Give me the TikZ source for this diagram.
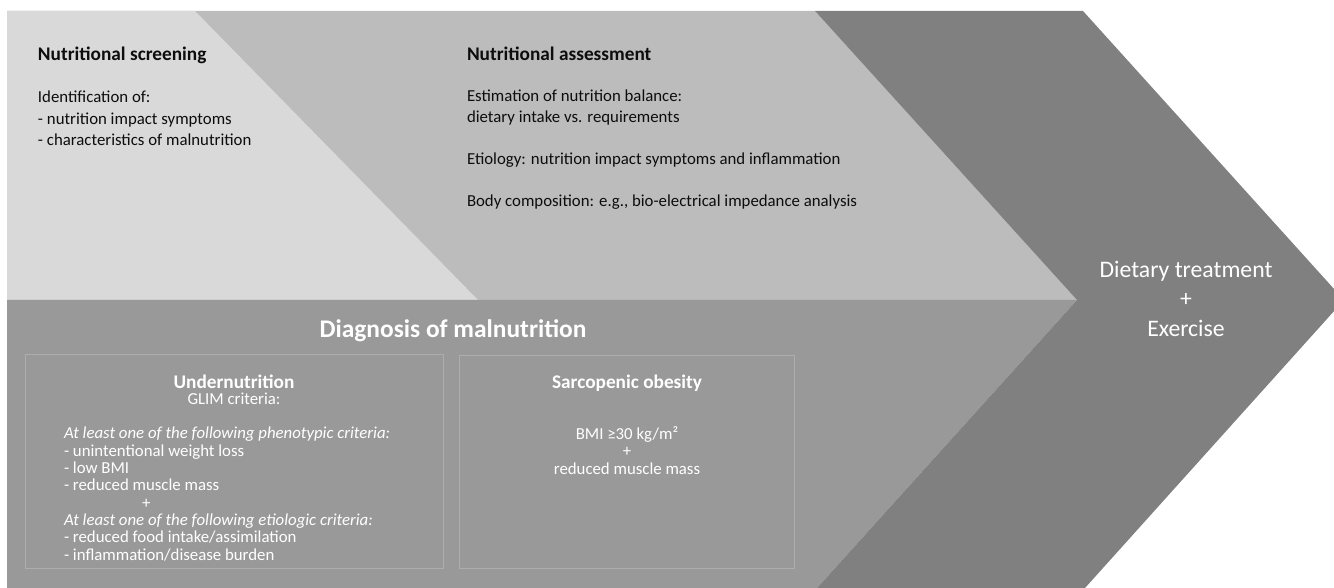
\documentclass[tikz,border=0pt]{standalone}
\usepackage{fontspec}
\setmainfont{Carlito}
\usetikzlibrary{calc}

\definecolor{screengray}{HTML}{D9D9D9}
\definecolor{assessgray}{HTML}{BCBCBC}
\definecolor{diaggray}{HTML}{999999}
\definecolor{treatgray}{HTML}{808080}
\definecolor{boxline}{HTML}{ADADAD}
\definecolor{inktext}{HTML}{0D0D0D}

\begin{document}
\begin{tikzpicture}[x=0.5pt, y=-0.5pt,
	every node/.style={inner sep=0pt, outer sep=0pt},
	headtext/.style={font=\bfseries\fontsize{9.65}{11.6}\selectfont},
	bodytext/.style={font=\fontsize{8.4}{10.5}\selectfont, align=left, text=inktext},
	crittext/.style={font=\fontsize{8.4}{8.65}\selectfont, text=white}]
	
	% parameters
	\def\bandtop{11}      % upper edge of the bands
	\def\bandmid{300}     % line between assessment and diagnosis
	\def\bandbot{588}     % lower edge
	\def\bandleft{7}      % left edge
	
	\useasboundingbox (0,0) rectangle (1334,588);
	
	% chevron corners
	\coordinate (notch) at (1077,\bandmid);
	\coordinate (tip) at (1344,\bandmid);
	
	% assessment band
	\fill[assessgray] (\bandleft,\bandtop) -- (815,\bandtop) -- (notch) -- (\bandleft,\bandmid) -- cycle;
	
	% screening triangle
	\fill[screengray] (\bandleft,\bandtop) -- (195,\bandtop) -- (478,\bandmid) -- (\bandleft,\bandmid) -- cycle;
	
	% diagnosis band
	\fill[diaggray] (\bandleft,\bandmid) -- (notch) -- (817,\bandbot) -- (\bandleft,\bandbot) -- cycle;
	
	% treatment chevron
	\begin{scope}
		\clip (0,0) rectangle (1334,588);
		\fill[treatgray] (815,\bandtop) -- (1083,\bandtop) -- (tip) -- (1085,\bandbot)
		-- (817,\bandbot) -- (notch) -- cycle;
	\end{scope}
	
	% criteria boxes
	\draw[boxline, line width=0.5pt] (25,355) rectangle (443,568);
	\draw[boxline, line width=0.5pt] (459,356) rectangle (794,568);
	
	% screening (multi-line nodes sit on their last baseline)
	\node[headtext, text=inktext, anchor=base west] (screenhead) at (38,61) {Nutritional screening};
	\node[bodytext, font=\fontsize{8.4}{10.75}\selectfont, anchor=base west] (screenlist) at (38,146)
	{Identification of:\\- nutrition impact symptoms\\- characteristics of malnutrition};
	
	% assessment
	\node[headtext, text=inktext, anchor=base west] (assesshead) at (467,61) {Nutritional assessment};
	\node[bodytext, anchor=base west] (assesslist) at (467,207)
	{Estimation of nutrition balance:\\dietary intake vs. requirements\\[10.5pt]
		Etiology: nutrition impact symptoms and inflammation\\[10.5pt]
		Body composition: e.g., bio-electrical impedance analysis};
	
	% diagnosis
	\node[font=\bfseries\fontsize{12.7}{15}\selectfont, text=white, anchor=base] (diaghead) at (453,338)
	{Diagnosis of malnutrition};
	
	\node[headtext, text=white, anchor=base] (underhead) at (234,388) {Undernutrition};
	\node[crittext, anchor=base] (glim) at (234,404) {GLIM criteria:};
	\node[crittext, align=left, anchor=base west] (underlist) at (64,560)
	{\textit{At least one of the following phenotypic criteria:}\\
		- unintentional weight loss\\
		- low BMI\\
		- reduced muscle mass\\
		\hspace*{39pt}+\\
		\textit{At least one of the following etiologic criteria:}\\
		- reduced food intake/assimilation\\
		- inflammation/disease burden};
	
	\node[headtext, text=white, anchor=base] (sarcohead) at (627,388) {Sarcopenic obesity};
	\node[crittext, align=center, anchor=base] (sarcolist) at (627,474)
	{BMI ≥30 kg/m²\\+\\reduced muscle mass};
	
	% treatment
	\node[font=\fontsize{11.85}{14.75}\selectfont, text=white, align=center, anchor=base] (treat) at (1186,336)
	{Dietary treatment\\+\\Exercise};
\end{tikzpicture}
\end{document}
